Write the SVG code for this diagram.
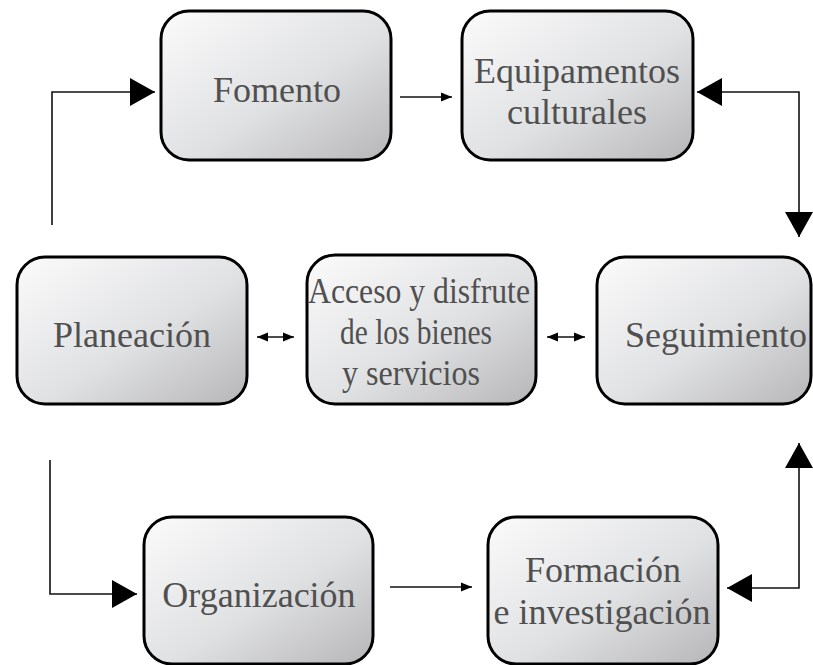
<svg xmlns="http://www.w3.org/2000/svg" width="813" height="665" viewBox="0 0 813 665">
<style>
.box{fill:url(#g);stroke:#000;stroke-width:3}
.lbl{font-family:"Liberation Serif",serif;font-size:36px;fill:#505050;text-anchor:middle}
.con{fill:none;stroke:#111;stroke-width:1.6}
</style>
<defs>
<linearGradient id="g" x1="0" y1="0" x2="1" y2="1">
<stop offset="0" stop-color="#fbfbfb"/>
<stop offset="0.55" stop-color="#e0e1e3"/>
<stop offset="1" stop-color="#b6b6b8"/>
</linearGradient>
<marker id="big" markerUnits="userSpaceOnUse" markerWidth="26" markerHeight="28" refX="25" refY="14" orient="auto-start-reverse" viewBox="0 0 26 28">
<path d="M0,0 L25,14 L0,28 Z" fill="#000"/>
</marker>
<marker id="sm" markerUnits="userSpaceOnUse" markerWidth="12" markerHeight="10" refX="11" refY="5" orient="auto-start-reverse" viewBox="0 0 12 10">
<path d="M0,0.5 L11,5 L0,9.5 Z" fill="#000"/>
</marker>
</defs>
<g id="connectors">
<path class="con" d="M52 225 V92 H155" marker-end="url(#big)"/>
<path class="con" d="M400 97 H452" marker-end="url(#sm)"/>
<path class="con" d="M697 92 H799 V237" marker-start="url(#big)" marker-end="url(#big)"/>
<path class="con" d="M257 337 H294" marker-start="url(#sm)" marker-end="url(#sm)"/>
<path class="con" d="M547 337 H585" marker-start="url(#sm)" marker-end="url(#sm)"/>
<path class="con" d="M50 460 V594 H137" marker-end="url(#big)"/>
<path class="con" d="M390 587 H472" marker-end="url(#sm)"/>
<path class="con" d="M727 588 H799 V443" marker-start="url(#big)" marker-end="url(#big)"/>
</g>
<g id="fomento">
<rect class="box" x="161" y="11" width="230" height="149" rx="28"/>
<text class="lbl" x="277" y="102">Fomento</text>
</g>
<g id="equipamentos">
<rect class="box" x="462" y="11" width="231" height="149" rx="28"/>
<text class="lbl" x="577" y="83">Equipamentos</text>
<text class="lbl" x="577" y="124">culturales</text>
</g>
<g id="planeacion">
<rect class="box" x="17" y="257" width="230" height="147" rx="28"/>
<text class="lbl" x="132" y="347">Planeación</text>
</g>
<g id="acceso">
<rect class="box" x="307" y="255" width="229" height="149" rx="28"/>
<text class="lbl" x="419" y="303" textLength="222" lengthAdjust="spacingAndGlyphs">Acceso y disfrute</text>
<text class="lbl" x="416" y="344" textLength="152" lengthAdjust="spacingAndGlyphs">de los bienes</text>
<text class="lbl" x="411" y="385" textLength="138" lengthAdjust="spacingAndGlyphs">y servicios</text>
</g>
<g id="seguimiento">
<rect class="box" x="597" y="257" width="214" height="147" rx="28"/>
<text class="lbl" x="716" y="347">Seguimiento</text>
</g>
<g id="organizacion">
<rect class="box" x="144" y="517" width="229" height="147" rx="28"/>
<text class="lbl" x="259" y="607">Organización</text>
</g>
<g id="formacion">
<rect class="box" x="488" y="517" width="230" height="147" rx="28"/>
<text class="lbl" x="603" y="582">Formación</text>
<text class="lbl" x="602" y="624">e investigación</text>
</g>
</svg>
